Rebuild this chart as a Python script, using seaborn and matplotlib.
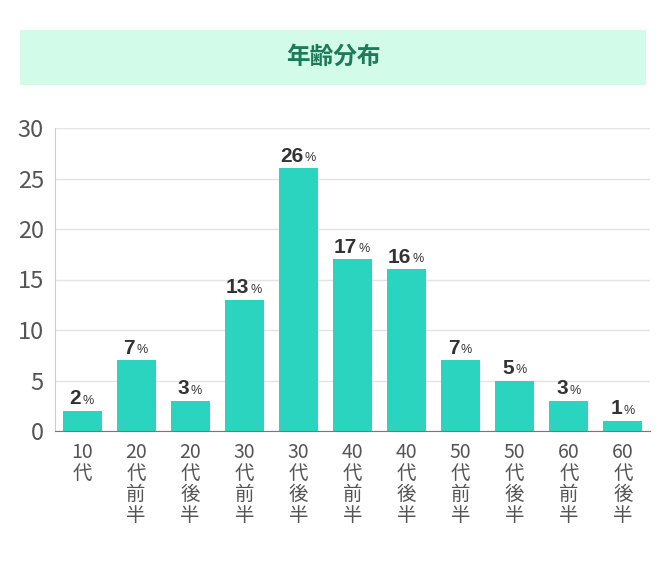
import matplotlib
matplotlib.use("Agg")
import matplotlib.pyplot as plt
import seaborn as sns
import pandas as pd
from matplotlib.patches import Rectangle

categories = ["10\n代", "20\n代\n前\n半", "20\n代\n後\n半", "30\n代\n前\n半", "30\n代\n後\n半",
              "40\n代\n前\n半", "40\n代\n後\n半", "50\n代\n前\n半", "50\n代\n後\n半", "60\n代\n前\n半", "60\n代\n後\n半"]
values = [2, 7, 3, 13, 26, 17, 16, 7, 5, 3, 1]
yticks = [0, 5, 10, 15, 20, 25, 30]
title = "年齢分布"

plt.rcParams["font.family"] = ["Noto Sans CJK JP", "DejaVu Sans"]
df = pd.DataFrame({"cat": categories, "val": values})

fig = plt.figure(figsize=(6.66, 5.77), dpi=100)
fig.patches.append(Rectangle((20/666, 1-85/577), 626/666, 55/577, transform=fig.transFigure,
                             facecolor="#d3fbe9", edgecolor="none"))
fig.text(333/666, 1-57/577, title, ha="center", va="center", fontsize=17, fontweight="bold", color="#1d7a5a")

ax = fig.add_axes([55/666, 1-431/577, 595/666, 303/577])
sns.barplot(data=df, x="cat", y="val", color="#2ad4be", saturation=1, width=0.72, ax=ax)
ax.set_ylim(0, 30)
ax.set_xlim(-0.5, len(values)-0.5)
ax.set_yticks(yticks)
ax.set_xlabel(""); ax.set_ylabel("")
ax.yaxis.grid(True, color="#e3e3e3", lw=1)
ax.set_axisbelow(True)
for s in ["top", "right"]:
    ax.spines[s].set_visible(False)
ax.spines["left"].set_color("#cccccc")
ax.spines["bottom"].set_color("#777777")
ax.tick_params(axis="y", length=0, labelsize=17, colors="#555555", pad=8)
ax.tick_params(axis="x", length=0, labelsize=14, colors="#555555", pad=8)
for lab in ax.get_xticklabels():
    lab.set_linespacing(1.0); lab.set_va("top")

for i, v in enumerate(values):
    t = ax.annotate(str(v), xy=(i, v), xytext=(-5, 2), textcoords="offset points",
                    ha="center", va="bottom", fontsize=15, fontweight="bold", color="#333333",
                    fontfamily="Liberation Sans")
    ax.annotate("%", xy=(1, 0), xycoords=t, xytext=(1, 1), textcoords="offset points",
                ha="left", va="bottom", fontsize=9, color="#333333", fontfamily="Liberation Sans")

fig.savefig("out.png", dpi=100)
